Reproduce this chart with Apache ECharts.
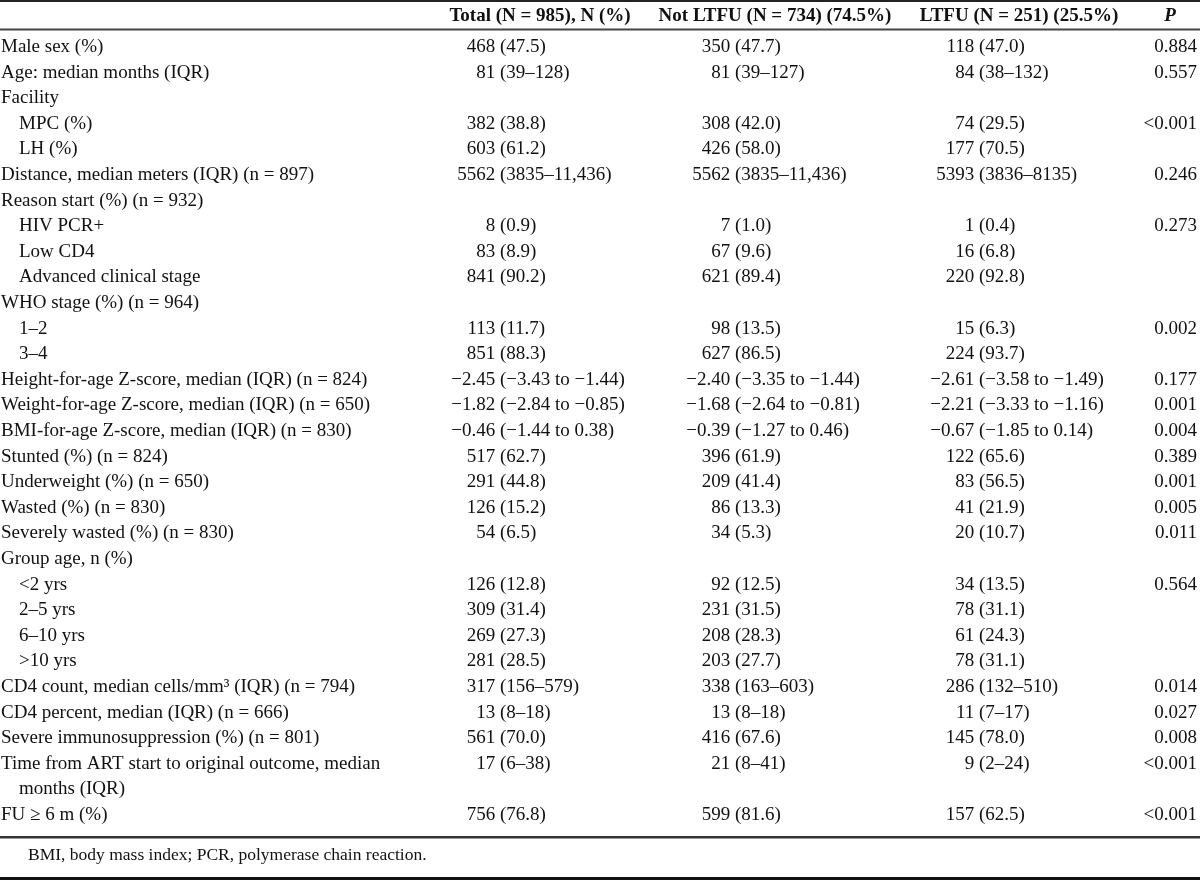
<!DOCTYPE html>
<html>
<head>
<meta charset="utf-8">
<script src="https://cdn.jsdelivr.net/npm/echarts@6/dist/echarts.min.js"></script>
<style>html,body{margin:0;padding:0;background:#fff}#c{width:1200px;height:880px}</style>
</head>
<body>
<div id="c"></div>
<script>
const headers = ["", "Total (N = 985), N (%)", "Not LTFU (N = 734) (74.5%)", "LTFU (N = 251) (25.5%)", "P"];
const labels = ["Male sex (%)", "Age: median months (IQR)", "Facility", "MPC (%)", "LH (%)",
  "Distance, median meters (IQR) (n = 897)", "Reason start (%) (n = 932)", "HIV PCR+", "Low CD4",
  "Advanced clinical stage", "WHO stage (%) (n = 964)", "1–2", "3–4",
  "Height-for-age Z-score, median (IQR) (n = 824)", "Weight-for-age Z-score, median (IQR) (n = 650)",
  "BMI-for-age Z-score, median (IQR) (n = 830)", "Stunted (%) (n = 824)", "Underweight (%) (n = 650)",
  "Wasted (%) (n = 830)", "Severely wasted (%) (n = 830)", "Group age, n (%)", "<2 yrs", "2–5 yrs",
  "6–10 yrs", ">10 yrs", "CD4 count, median cells/mm³ (IQR) (n = 794)", "CD4 percent, median (IQR) (n = 666)",
  "Severe immunosuppression (%) (n = 801)", "Time from ART start to original outcome, median\nmonths (IQR)",
  "FU ≥ 6 m (%)"];
const subRows = [3, 4, 7, 8, 9, 11, 12, 21, 22, 23, 24];
const total = ["468 (47.5)", "81 (39–128)", "", "382 (38.8)", "603 (61.2)", "5562 (3835–11,436)", "",
  "8 (0.9)", "83 (8.9)", "841 (90.2)", "", "113 (11.7)", "851 (88.3)", "−2.45 (−3.43 to −1.44)",
  "−1.82 (−2.84 to −0.85)", "−0.46 (−1.44 to 0.38)", "517 (62.7)", "291 (44.8)", "126 (15.2)", "54 (6.5)",
  "", "126 (12.8)", "309 (31.4)", "269 (27.3)", "281 (28.5)", "317 (156–579)", "13 (8–18)", "561 (70.0)",
  "17 (6–38)", "756 (76.8)"];
const notLtfu = ["350 (47.7)", "81 (39–127)", "", "308 (42.0)", "426 (58.0)", "5562 (3835–11,436)", "",
  "7 (1.0)", "67 (9.6)", "621 (89.4)", "", "98 (13.5)", "627 (86.5)", "−2.40 (−3.35 to −1.44)",
  "−1.68 (−2.64 to −0.81)", "−0.39 (−1.27 to 0.46)", "396 (61.9)", "209 (41.4)", "86 (13.3)", "34 (5.3)",
  "", "92 (12.5)", "231 (31.5)", "208 (28.3)", "203 (27.7)", "338 (163–603)", "13 (8–18)", "416 (67.6)",
  "21 (8–41)", "599 (81.6)"];
const ltfu = ["118 (47.0)", "84 (38–132)", "", "74 (29.5)", "177 (70.5)", "5393 (3836–8135)", "",
  "1 (0.4)", "16 (6.8)", "220 (92.8)", "", "15 (6.3)", "224 (93.7)", "−2.61 (−3.58 to −1.49)",
  "−2.21 (−3.33 to −1.16)", "−0.67 (−1.85 to 0.14)", "122 (65.6)", "83 (56.5)", "41 (21.9)", "20 (10.7)",
  "", "34 (13.5)", "78 (31.1)", "61 (24.3)", "78 (31.1)", "286 (132–510)", "11 (7–17)", "145 (78.0)",
  "9 (2–24)", "157 (62.5)"];
const pValues = ["0.884", "0.557", "", "<0.001", "", "0.246", "", "0.273", "", "", "", "0.002", "",
  "0.177", "0.001", "0.004", "0.389", "0.001", "0.005", "0.011", "", "0.564", "", "", "", "0.014",
  "0.027", "0.008", "<0.001", "<0.001"];
const footnote = "BMI, body mass index; PCR, polymerase chain reaction.";

// layout
const FONT = '"Liberation Serif", "Times New Roman", serif';
const FS = 19;
const TXT = '#111';
const labelX = 1, indentX = 19;
const parenX = [500, 735, 979];
const pRightX = 1197;
const headerCX = [540, 775, 1019, 1170];
const valueCols = [total, notLtfu, ltfu];

// line index for each row (multi-line labels take extra lines)
const lineIdx = [];
let ln = 0;
labels.forEach(l => { lineIdx.push(ln); ln += l.split('\n').length; });

const rowData = labels.map((l, i) => [0, lineIdx[i], i]);

function txt(text, x, y, align, extra) {
  return {
    type: 'text',
    style: Object.assign({
      text: text, x: x, y: y, align: align, verticalAlign: 'middle',
      fontFamily: FONT, fontSize: FS, fill: TXT
    }, extra || {})
  };
}

const chart = echarts.init(document.getElementById('c'), null, {renderer: 'canvas'});
chart.setOption({
  backgroundColor: '#fff',
  animation: false,
  grid: {left: 0, right: 0, top: 8.6, height: 819.2, containLabel: false},
  xAxis: {type: 'value', min: 0, max: 1200, show: false},
  yAxis: {type: 'value', min: -1.5, max: 30.5, inverse: true, show: false},
  series: [
    {
      type: 'custom',
      coordinateSystem: 'cartesian2d',
      silent: true,
      data: [[0, -1.22]],
      renderItem: function (params, api) {
        const y = api.coord([0, api.value(1)])[1];
        const ch = [];
        for (let c = 1; c <= 4; c++) {
          const x = api.coord([headerCX[c - 1], 0])[0];
          ch.push(txt(headers[c], x, y, 'center',
            {fontWeight: 'bold', fontStyle: c === 4 ? 'italic' : 'normal'}));
        }
        return {type: 'group', children: ch};
      }
    },
    {
      type: 'custom',
      coordinateSystem: 'cartesian2d',
      silent: true,
      data: rowData,
      renderItem: function (params, api) {
        const i = api.value(2);
        const line = api.value(1);
        const y = api.coord([0, line])[1];
        const ch = [];
        const isSub = subRows.indexOf(i) >= 0;
        labels[i].split('\n').forEach((part, k) => {
          const yy = api.coord([0, line + k])[1];
          const x = api.coord([(isSub || k > 0) ? indentX : labelX, 0])[0];
          ch.push(txt(part, x, yy, 'left'));
        });
        valueCols.forEach((col, c) => {
          const v = col[i];
          if (!v) return;
          const px = api.coord([parenX[c], 0])[0];
          const s = v.indexOf(' (');
          if (s >= 0) {
            ch.push(txt(v.slice(0, s + 1), px, y, 'right'));
            ch.push(txt(v.slice(s + 1), px, y, 'left'));
          } else {
            ch.push(txt(v, px, y, 'center'));
          }
        });
        if (pValues[i]) {
          ch.push(txt(pValues[i], api.coord([pRightX, 0])[0], y, 'right'));
        }
        return {type: 'group', children: ch};
      }
    }
  ],
  graphic: [
    {type: 'rect', shape: {x: 0, y: 0, width: 1200, height: 2}, style: {fill: '#222'}},
    {type: 'rect', shape: {x: 0, y: 28.5, width: 1200, height: 2}, style: {fill: '#444'}},
    {type: 'rect', shape: {x: 0, y: 836, width: 1200, height: 2.5}, style: {fill: '#333'}},
    {type: 'rect', shape: {x: 0, y: 877, width: 1200, height: 3}, style: {fill: '#111'}},
    {type: 'text', left: 28, top: 846, style: {text: footnote, fontFamily: FONT, fontSize: 17.5, fill: TXT}}
  ]
});
</script>
</body>
</html>
